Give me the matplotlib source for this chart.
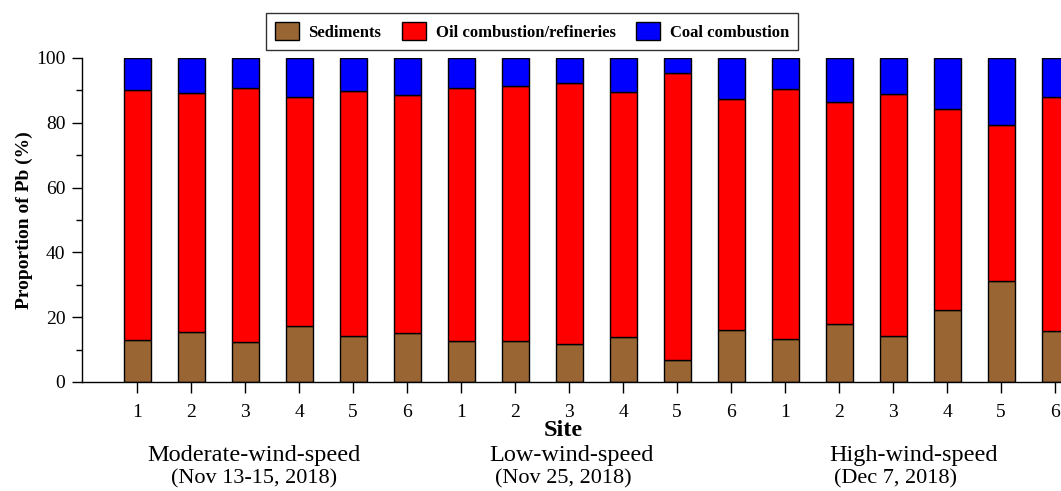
import matplotlib.pyplot as plt
import matplotlib.transforms as mtransforms
import numpy as np

plt.rcParams['font.family'] = ['Liberation Serif', 'DejaVu Serif']

# data (%)
sites = ['1', '2', '3', '4', '5', '6'] * 3
sediments = [13.1, 15.3, 12.2, 17.4, 14.1, 15.0,
             12.8, 12.6, 11.7, 14.0, 6.8, 16.0,
             13.4, 17.9, 14.3, 22.1, 31.1, 15.8]
oil = [77.0, 73.8, 78.6, 70.7, 75.6, 73.7,
       77.9, 78.8, 80.5, 75.5, 88.7, 71.3,
       77.0, 68.5, 74.7, 62.0, 48.3, 72.3]
coal = [9.9, 10.9, 9.2, 11.9, 10.3, 11.3,
        9.3, 8.6, 7.8, 10.5, 4.5, 12.7,
        9.6, 13.6, 11.0, 15.9, 20.6, 11.9]
groups = ['Moderate-wind-speed', 'Low-wind-speed', 'High-wind-speed']
dates = ['(Nov 13-15, 2018)', '(Nov 25, 2018)', '(Dec 7, 2018)']

fig = plt.figure(figsize=(10.61, 4.91), dpi=100)
# axes runs past the right edge, like the original (cropped) figure
ax = fig.add_axes([0.0773, 0.222, 0.969, 0.660])

x = np.arange(len(sites))
sed = np.array(sediments)
oi = np.array(oil)
co = np.array(coal)

w = 0.5
b1 = ax.bar(x, sed, w, color='#996633', edgecolor='black', linewidth=1.0, label='Sediments')
b2 = ax.bar(x, oi, w, bottom=sed, color='#ff0000', edgecolor='black', linewidth=1.0,
            label='Oil combustion/refineries')
b3 = ax.bar(x, co, w, bottom=sed + oi, color='#0000ff', edgecolor='black', linewidth=1.0,
            label='Coal combustion')

ax.set_xlim(-1.02, 18.02)
ax.set_ylim(0, 100)
ax.set_yticks(np.arange(0, 101, 20))
ax.set_yticks(np.arange(10, 100, 20), minor=True)
ax.set_xticks(x)
ax.set_xticklabels(sites)

ax.spines['top'].set_visible(False)
ax.spines['right'].set_visible(False)
for s in ['left', 'bottom']:
    ax.spines[s].set_linewidth(1.0)

ax.tick_params(axis='y', which='major', direction='out', length=7, width=1, labelsize=14, pad=5)
ax.tick_params(axis='y', which='minor', direction='out', length=4, width=1)
ax.tick_params(axis='x', which='major', direction='out', length=8, width=1, labelsize=14, pad=8)

ax.set_ylabel('Proportion of Pb (%)', fontsize=14, fontweight='bold', labelpad=2)

# x label and group labels under the ticks
fig.text(563 / 1061, 1 - 431 / 491, 'Site', fontsize=17.5, fontweight='bold',
         ha='center', va='center')
trans = mtransforms.blended_transform_factory(ax.transData, fig.transFigure)
name_x = [2.17, 8.04, 14.37]
date_x = [2.17, 7.90, 14.04]
for gx, dx, g, d in zip(name_x, date_x, groups, dates):
    ax.text(gx, 1 - 455 / 491, g, transform=trans, fontsize=17.5, ha='center', va='center')
    ax.text(dx, 1 - 479 / 491, d, transform=trans, fontsize=16, ha='center', va='center')

leg = fig.legend(handles=[b1, b2, b3], loc='upper center', bbox_to_anchor=(532 / 1061, 1 - 13 / 491),
                 ncol=3, frameon=True, fancybox=False, edgecolor='black', borderaxespad=0,
                 prop={'size': 12, 'weight': 'bold'}, handlelength=1.45, handleheight=1.3,
                 columnspacing=1.25, handletextpad=0.55, borderpad=0.55)
leg.get_frame().set_linewidth(1.0)

plt.savefig('out.png', dpi=100)
